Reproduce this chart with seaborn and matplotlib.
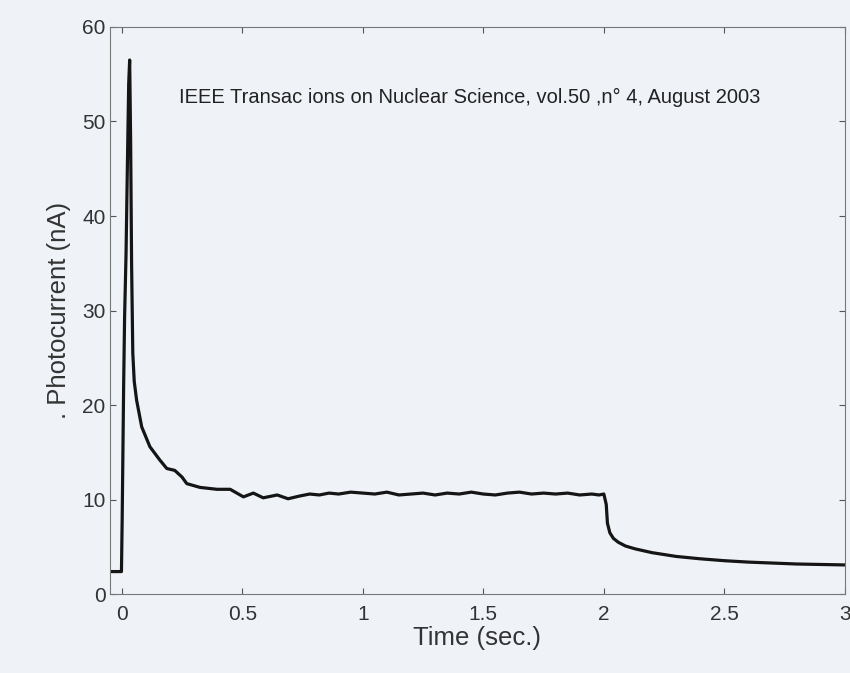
import matplotlib
matplotlib.use("Agg")
import matplotlib.pyplot as plt
import seaborn as sns
import pandas as pd

time_s = [-0.05, -0.001, 0.002, 0.008, 0.012, 0.018, 0.024, 0.029, 0.033, 0.037, 0.041, 0.046, 0.052,
          0.062, 0.083, 0.117, 0.158, 0.187, 0.22, 0.25, 0.27, 0.325, 0.395, 0.45, 0.505, 0.546,
          0.587, 0.645, 0.69, 0.74, 0.78, 0.82, 0.86, 0.9, 0.95, 1.0, 1.05, 1.1, 1.15, 1.2, 1.25,
          1.3, 1.35, 1.4, 1.45, 1.5, 1.55, 1.6, 1.65, 1.7, 1.75, 1.8, 1.85, 1.9, 1.95, 1.98, 2.0,
          2.01, 2.015, 2.025, 2.04, 2.06, 2.09, 2.13, 2.2, 2.3, 2.4, 2.5, 2.6, 2.7, 2.8, 2.9, 3.0]
current_nA = [2.4, 2.4, 8.0, 22.0, 29.3, 36.0, 46.0, 54.0, 56.5, 48.0, 35.0, 25.5, 22.5,
              20.5, 17.7, 15.6, 14.2, 13.3, 13.1, 12.4, 11.7, 11.3, 11.1, 11.1, 10.3, 10.7,
              10.2, 10.5, 10.1, 10.4, 10.6, 10.5, 10.7, 10.6, 10.8, 10.7, 10.6, 10.8, 10.5, 10.6, 10.7,
              10.5, 10.7, 10.6, 10.8, 10.6, 10.5, 10.7, 10.8, 10.6, 10.7, 10.6, 10.7, 10.5, 10.6, 10.5, 10.6,
              9.5, 7.5, 6.5, 5.9, 5.5, 5.1, 4.8, 4.4, 4.0, 3.75, 3.55, 3.4, 3.3, 3.2, 3.15, 3.1]

x_ticks = [0, 0.5, 1, 1.5, 2, 2.5, 3]
x_tick_labels = ["0", "0.5", "1", "1.5", "2", "2.5", "3"]
y_ticks = [0, 10, 20, 30, 40, 50, 60]
y_tick_labels = ["0", "10", "20", "30", "40", "50", "60"]

annotation = "IEEE Transac ions on Nuclear Science, vol.50 ,n\u00b0 4, August 2003"

sns.set_style("ticks")
plt.rcParams["font.family"] = ["Liberation Sans", "DejaVu Sans"]

bg = "#eff2f7"
fig = plt.figure(figsize=(8.5, 6.73), dpi=100, facecolor=bg)
ax = fig.add_axes([0.129, 0.117, 0.865, 0.843])
ax.set_facecolor(bg)

df = pd.DataFrame({"t": time_s, "I": current_nA})
sns.lineplot(data=df, x="t", y="I", ax=ax, color="#151515", linewidth=2.3,
             sort=False, estimator=None)

ax.set_xlim(-0.05, 3.0)
ax.set_ylim(0, 60)
ax.set_xticks(x_ticks)
ax.set_xticklabels(x_tick_labels)
ax.set_yticks(y_ticks)
ax.set_yticklabels(y_tick_labels)
ax.tick_params(direction="in", top=True, right=True, length=4, width=0.8,
               colors="#555555", labelcolor="#333333", labelsize=15)
ax.tick_params(axis="x", pad=8)
ax.tick_params(axis="y", pad=3)
for s in ax.spines.values():
    s.set_color("#777777")
    s.set_linewidth(0.8)

ax.set_xlabel("Time (sec.)", fontsize=18.5, color="#333333", labelpad=1)
ax.set_ylabel(". Photocurrent (nA)", fontsize=18.5, color="#333333", labelpad=8)

ax.text(0.49, 0.875, annotation, transform=ax.transAxes, ha="center", va="center",
        fontsize=14.5, color="#222222")

fig.savefig("out.png", dpi=100, facecolor=bg)
